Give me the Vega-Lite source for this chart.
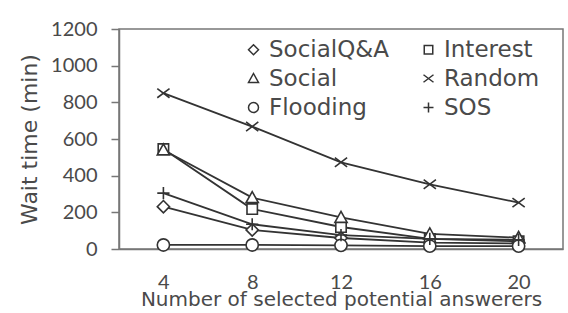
{
  "$schema": "https://vega.github.io/schema/vega-lite/v6.json",
  "width": 444,
  "height": 220,
  "autosize": {"type": "none"},
  "padding": {"left": 119, "top": 29, "right": 5, "bottom": 64},
  "background": "white",
  "config": {
    "font": "DejaVu Sans",
    "view": {"stroke": "#777", "strokeWidth": 1.5},
    "axis": {"grid": false, "domainColor": "#777", "domainWidth": 1.5, "tickColor": "#777", "tickWidth": 1.5, "labelFont": "Lato", "titleFont": "DejaVu Sans", "labelColor": "#4a4a4a", "titleColor": "#4a4a4a", "labelFontSize": 20, "titleFontWeight": "normal"}
  },
  "data": {
    "values": [
      {"series": "SocialQ&A", "x": 4, "y": 231},
      {"series": "SocialQ&A", "x": 8, "y": 104},
      {"series": "SocialQ&A", "x": 12, "y": 60},
      {"series": "SocialQ&A", "x": 16, "y": 35},
      {"series": "SocialQ&A", "x": 20, "y": 30},
      {"series": "Interest", "x": 4, "y": 545},
      {"series": "Interest", "x": 8, "y": 218},
      {"series": "Interest", "x": 12, "y": 120},
      {"series": "Interest", "x": 16, "y": 55},
      {"series": "Interest", "x": 20, "y": 42},
      {"series": "Social", "x": 4, "y": 540},
      {"series": "Social", "x": 8, "y": 280},
      {"series": "Social", "x": 12, "y": 172},
      {"series": "Social", "x": 16, "y": 82},
      {"series": "Social", "x": 20, "y": 62},
      {"series": "Random", "x": 4, "y": 850},
      {"series": "Random", "x": 8, "y": 668},
      {"series": "Random", "x": 12, "y": 473},
      {"series": "Random", "x": 16, "y": 353},
      {"series": "Random", "x": 20, "y": 253},
      {"series": "Flooding", "x": 4, "y": 22},
      {"series": "Flooding", "x": 8, "y": 22},
      {"series": "Flooding", "x": 12, "y": 20},
      {"series": "Flooding", "x": 16, "y": 16},
      {"series": "Flooding", "x": 20, "y": 16},
      {"series": "SOS", "x": 4, "y": 305},
      {"series": "SOS", "x": 8, "y": 135},
      {"series": "SOS", "x": 12, "y": 76},
      {"series": "SOS", "x": 16, "y": 55},
      {"series": "SOS", "x": 20, "y": 50}
    ]
  },
  "encoding": {
    "x": {
      "field": "x", "type": "quantitative",
      "scale": {"domain": [2, 22], "nice": false, "zero": false},
      "axis": {"values": [4, 8, 12, 16, 20], "ticks": false, "labelPadding": 23, "title": "Number of selected potential answerers", "titleFontSize": 20, "titlePadding": -3}
    },
    "y": {
      "field": "y", "type": "quantitative",
      "scale": {"domain": [0, 1200], "nice": false},
      "axis": {"values": [0, 200, 400, 600, 800, 1000, 1200], "format": "d", "tickSize": 8, "labelPadding": 14, "title": "Wait time (min)", "titleFontSize": 22, "titlePadding": 9}
    }
  },
  "layer": [
    {
      "mark": {"type": "line", "stroke": "#333", "strokeWidth": 1.8},
      "encoding": {"detail": {"field": "series"}}
    },
    {
      "mark": {"type": "point", "filled": true, "fill": "white", "stroke": "#333", "strokeWidth": 1.6, "size": 150, "opacity": 1},
      "encoding": {
        "shape": {
          "field": "series", "type": "nominal",
          "scale": {
            "domain": ["SocialQ&A", "Social", "Flooding", "Interest", "Random", "SOS"],
            "range": [
              "M0,-1L1,0L0,1L-1,0Z",
              "M0,-1L1,0.8L-1,0.8Z",
              "circle",
              "M-0.85,-0.85L0.85,-0.85L0.85,0.85L-0.85,0.85Z",
              "M-1,-0.75L1,0.75M-1,0.75L1,-0.75",
              "M-1,0L1,0M0,-1L0,1"
            ]
          },
          "legend": {
            "title": null,
            "orient": "none",
            "legendX": 123,
            "legendY": 9,
            "columns": 2,
            "columnPadding": 28,
            "rowPadding": 5,
            "labelFont": "DejaVu Sans",
            "labelFontSize": 23,
            "labelColor": "#4a4a4a",
            "labelOffset": 4,
            "symbolSize": 100,
            "symbolStrokeWidth": 1.5
          }
        }
      }
    }
  ]
}
